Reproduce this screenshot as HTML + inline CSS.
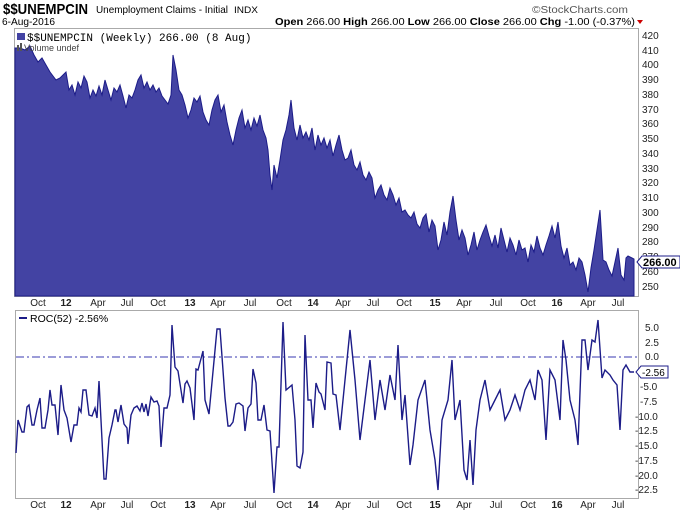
<!DOCTYPE html>
<html><head><meta charset="utf-8"><style>
body{margin:0;background:#fff;width:680px;height:515px;overflow:hidden;font-family:"Liberation Sans",sans-serif}
</style></head><body>
<svg width="680" height="515" xmlns="http://www.w3.org/2000/svg" font-family="Liberation Sans, sans-serif">
<text x="3" y="14" font-size="15" font-weight="bold" textLength="85" lengthAdjust="spacingAndGlyphs">$$UNEMPCIN</text>
<text x="96" y="13" font-size="10.5" textLength="132" lengthAdjust="spacingAndGlyphs">Unemployment Claims - Initial</text>
<text x="234" y="13" font-size="9.5" textLength="24" lengthAdjust="spacingAndGlyphs">INDX</text>
<text x="532" y="13" font-size="10" fill="#555" textLength="96" lengthAdjust="spacingAndGlyphs">©StockCharts.com</text>
<text x="2" y="25" font-size="10" textLength="53" lengthAdjust="spacingAndGlyphs">6-Aug-2016</text>
<text x="275" y="25" font-size="10" textLength="360" lengthAdjust="spacingAndGlyphs"><tspan font-weight="bold">Open</tspan> 266.00 <tspan font-weight="bold">High</tspan> 266.00 <tspan font-weight="bold">Low</tspan> 266.00 <tspan font-weight="bold">Close</tspan> 266.00 <tspan font-weight="bold">Chg</tspan> -1.00 (-0.37%)</text>
<polygon points="637,20 643,20 640,24" fill="#c00"/>
<!-- main panel -->
<rect x="14.5" y="28.5" width="624" height="268" fill="#fff" stroke="#aaa"/>
<polygon fill="#4343a3" stroke="#1c1c88" stroke-width="1" points="15,296 15,48 20,48 25,50 30,46 34,55 38,62 42,58 46,65 50,72 53,76 56,80 60,78 63,75 66,72 69,90 72,85 75,95 78,82 81,88 84,76 87,82 90,98 93,90 96,96 99,86 102,95 105,80 108,90 111,100 114,88 117,92 120,85 123,96 126,108 129,95 132,98 135,90 138,80 141,75 144,88 147,82 150,90 153,85 156,92 159,88 162,96 165,100 168,104 171,95 173,55 176,70 179,90 182,95 185,105 188,118 191,110 194,98 197,102 200,96 203,112 206,120 209,125 212,110 215,100 218,95 221,112 224,105 227,122 230,135 233,145 236,130 239,118 242,110 245,128 248,120 251,130 254,118 257,126 260,115 263,130 266,138 268,150 270,175 272,190 274,165 277,178 280,160 283,140 286,130 289,115 291,100 294,128 297,140 300,125 303,138 306,132 309,140 312,128 315,150 318,135 321,145 324,138 327,148 330,140 333,156 336,145 339,135 342,150 345,160 348,158 351,150 354,165 357,170 360,162 363,175 366,180 369,172 372,178 375,198 378,190 381,185 384,195 387,200 390,188 393,195 396,205 399,198 402,212 405,210 408,215 411,218 414,212 417,224 420,228 423,218 426,214 429,232 432,220 435,226 438,250 441,240 444,222 447,235 450,212 453,196 456,220 459,240 462,230 465,238 468,255 471,245 474,232 477,250 480,240 483,232 486,225 489,236 492,246 495,235 498,248 501,228 504,240 507,252 510,238 513,245 516,255 519,240 522,250 525,248 528,262 531,245 534,252 537,236 540,248 543,255 546,245 549,236 552,226 555,238 558,222 561,246 564,258 567,248 570,265 573,262 576,270 579,258 582,262 585,275 588,292 591,268 594,250 597,230 600,210 603,260 606,262 609,270 612,276 615,262 618,248 621,275 624,280 626,258 628,256 632,258 634,259 634,296"/>
<g font-size="10" fill="#222">
<text x="642" y="39">420</text><text x="642" y="54">410</text><text x="642" y="68">400</text><text x="642" y="83">390</text><text x="642" y="98">380</text><text x="642" y="113">370</text><text x="642" y="127">360</text><text x="642" y="142">350</text><text x="642" y="157">340</text><text x="642" y="172">330</text><text x="642" y="186">320</text><text x="642" y="201">310</text><text x="642" y="216">300</text><text x="642" y="231">290</text><text x="642" y="245">280</text><text x="642" y="260">270</text><text x="642" y="275">260</text><text x="642" y="290">250</text>
</g>
<polygon points="637,262 642,256 680,256 680,268 642,268" fill="#fff" stroke="#1c1c88"/>
<text x="643" y="266" font-size="11" font-weight="bold">266.00</text>
<rect x="17" y="33" width="8" height="7" fill="#4343a3"/>
<text x="27" y="41" font-size="11" font-family="Liberation Mono, monospace">$$UNEMPCIN (Weekly) 266.00 (8 Aug)</text>
<rect x="17" y="45" width="2" height="6" fill="#555"/><rect x="20" y="43" width="2" height="8" fill="#555"/>
<text x="24" y="51" font-size="9" fill="#444">Volume undef</text>
<g font-size="10" fill="#222" text-anchor="middle">
<text x="38" y="306">Oct</text><text x="66" y="306" font-weight="bold">12</text><text x="98" y="306">Apr</text><text x="127" y="306">Jul</text><text x="158" y="306">Oct</text><text x="190" y="306" font-weight="bold">13</text><text x="218" y="306">Apr</text><text x="250" y="306">Jul</text><text x="284" y="306">Oct</text><text x="313" y="306" font-weight="bold">14</text><text x="343" y="306">Apr</text><text x="373" y="306">Jul</text><text x="404" y="306">Oct</text><text x="435" y="306" font-weight="bold">15</text><text x="464" y="306">Apr</text><text x="496" y="306">Jul</text><text x="528" y="306">Oct</text><text x="557" y="306" font-weight="bold">16</text><text x="588" y="306">Apr</text><text x="618" y="306">Jul</text>
<text x="38" y="508">Oct</text><text x="66" y="508" font-weight="bold">12</text><text x="98" y="508">Apr</text><text x="127" y="508">Jul</text><text x="158" y="508">Oct</text><text x="190" y="508" font-weight="bold">13</text><text x="218" y="508">Apr</text><text x="250" y="508">Jul</text><text x="284" y="508">Oct</text><text x="313" y="508" font-weight="bold">14</text><text x="343" y="508">Apr</text><text x="373" y="508">Jul</text><text x="404" y="508">Oct</text><text x="435" y="508" font-weight="bold">15</text><text x="464" y="508">Apr</text><text x="496" y="508">Jul</text><text x="528" y="508">Oct</text><text x="557" y="508" font-weight="bold">16</text><text x="588" y="508">Apr</text><text x="618" y="508">Jul</text>
</g>
<!-- ROC panel -->
<rect x="15.5" y="310.5" width="623" height="188" fill="#fff" stroke="#aaa"/>
<line x1="16" y1="357" x2="638" y2="357" stroke="#3a3ab0" stroke-dasharray="8,3,2,3"/>
<polyline fill="none" stroke="#1c1c88" stroke-width="1.4" points="16,453 18,420 22,432 24,432 27,407 29,405 32,425 34,425 37,410 40,398 42,428 45,428 48,410 50,390 52,405 55,405 58,435 61,385 64,410 67,418 71,442 74,425 77,425 79,408 81,412 83,390 86,390 89,415 92,416 95,408 97,418 99,381 104,479 106,479 109,438 112,425 115,410 116,410 118,422 121,405 124,424 127,428 128,444 131,415 134,408 137,406 140,411 142,403 144,412 146,404 148,416 151,397 154,402 157,401 159,406 161,447 164,408 166,408 167,408 170,395 172,325 175,367 178,371 183,403 185,384 187,381 190,388 194,420 196,369 198,370 203,351 205,400 209,414 217,329 220,329 225,398 228,426 230,426 233,422 236,404 239,403 243,406 245,431 248,408 251,404 253,369 256,383 258,420 261,420 264,405 267,430 270,431 274,493 277,447 279,447 283,322 286,390 292,385 295,420 297,466 300,468 303,452 305,335 308,400 311,400 313,428 316,383 319,392 321,394 325,410 327,362 331,363 333,394 336,395 340,430 345,380 350,330 355,380 360,440 365,400 370,360 375,420 380,380 385,410 390,375 395,400 398,345 402,420 405,395 410,465 413,445 418,400 425,380 430,430 435,460 438,490 442,420 448,400 452,360 455,420 460,400 464,470 467,480 470,440 473,485 476,430 480,400 485,380 490,410 495,400 500,390 505,420 510,410 515,395 520,410 525,390 530,380 535,400 538,370 542,380 546,440 550,370 555,380 560,420 563,340 566,360 570,400 575,420 578,445 582,340 585,340 588,370 592,340 595,342 598,320 602,378 605,370 610,375 613,380 617,385 620,430 623,370 626,365 630,372 634,372"/>
<line x1="19" y1="318" x2="27" y2="318" stroke="#1c1c88" stroke-width="2"/>
<text x="30" y="322" font-size="10.5">ROC(52) -2.56%</text>
<g font-size="10" fill="#222">
<text x="645" y="331">5.0</text><text x="645" y="346">2.5</text><text x="645" y="360">0.0</text><text x="640" y="390">-5.0</text><text x="640" y="405">-7.5</text><text x="635" y="420">-10.0</text><text x="635" y="434">-12.5</text><text x="635" y="449">-15.0</text><text x="635" y="464">-17.5</text><text x="635" y="479">-20.0</text><text x="635" y="493">-22.5</text>
</g>
<polygon points="636,372 641,366 668,366 668,378 641,378" fill="#fff" stroke="#1c1c88"/>
<text x="642" y="376" font-size="10">-2.56</text>
</svg>
</body></html>
